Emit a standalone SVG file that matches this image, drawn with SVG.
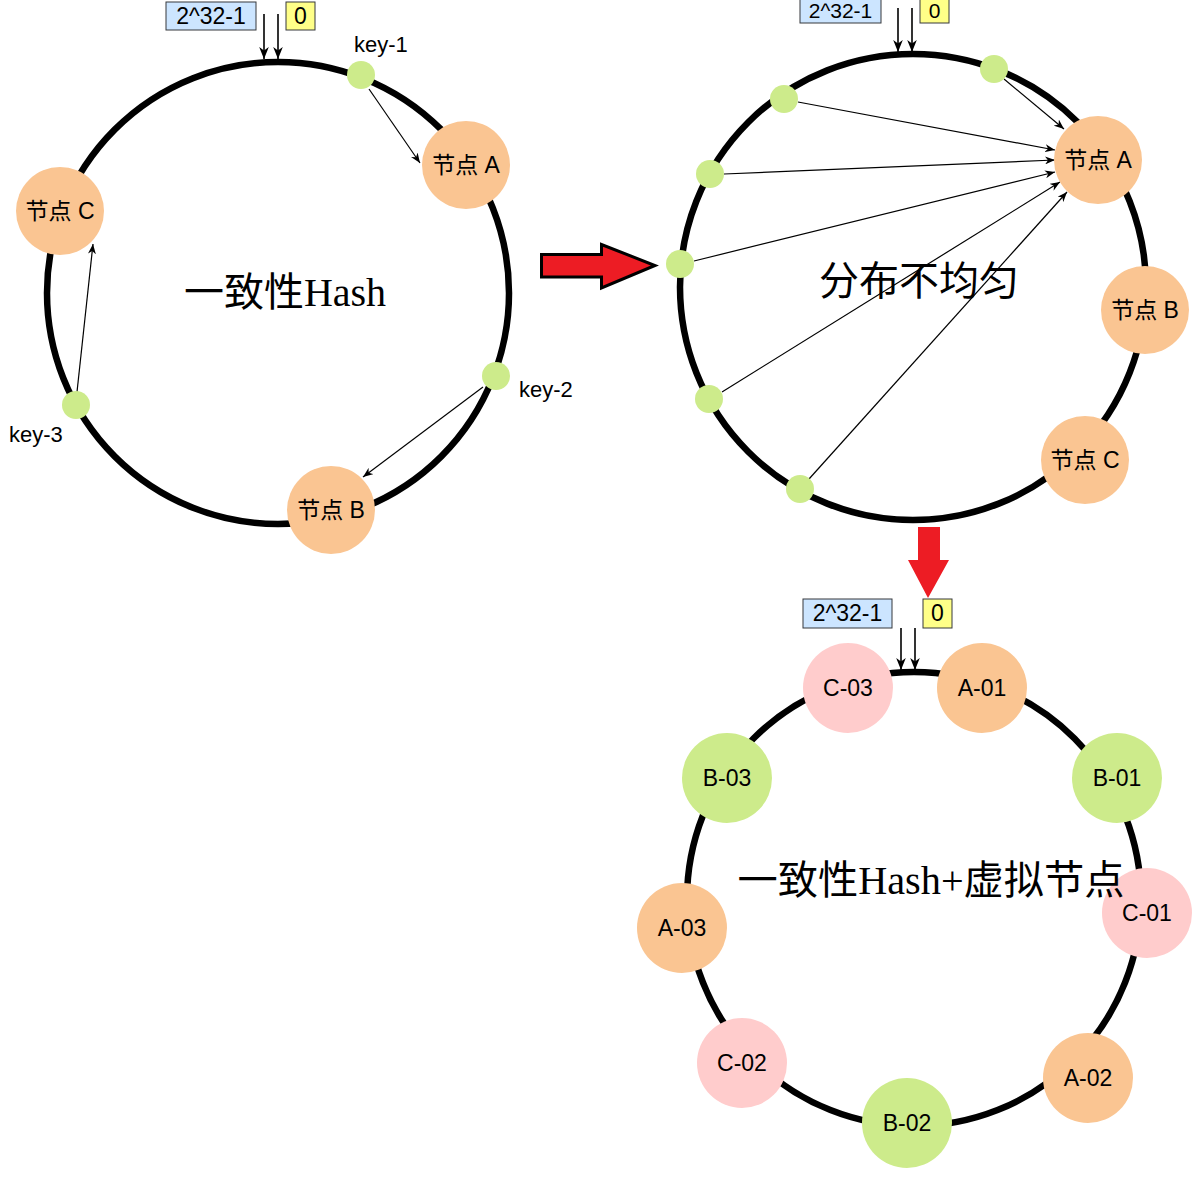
<svg xmlns="http://www.w3.org/2000/svg" width="1201" height="1183" viewBox="0 0 1201 1183">
<style>
.ring{fill:none;stroke:#000;stroke-width:6.5}
.on{fill:#FAC592}
.pk{fill:#FFCCCC}
.gn{fill:#CDEB8B}
.dot{fill:#CDEB8B}
.lbl{font-family:"Liberation Sans","Noto Sans CJK SC",sans-serif;font-size:23px;fill:#000;text-anchor:middle;dominant-baseline:central}
.key{font-family:"Liberation Sans",sans-serif;font-size:22px;fill:#000}
.title{font-family:"Liberation Serif","Noto Sans CJK SC",serif;font-size:40px;fill:#000;text-anchor:middle}
.conn{stroke:#000;stroke-width:1.2;fill:none}
.conn2{stroke:#000;stroke-width:1.6;fill:none}
.bx{fill:#CCE5FF;stroke:#36393D;stroke-width:1}
.yb{fill:#FFFF88;stroke:#36393D;stroke-width:1}
.red{fill:#ED1C24}
</style>
<defs>
<marker id="ah" viewBox="0 0 10 8" refX="10" refY="4" markerWidth="10" markerHeight="8" markerUnits="userSpaceOnUse" orient="auto">
<path d="M0,0 L10,4 L0,8 L3,4 z" fill="#000"/>
</marker>
<marker id="ah2" viewBox="0 0 10 8" refX="10" refY="4" markerWidth="12" markerHeight="10" markerUnits="userSpaceOnUse" orient="auto">
<path d="M0,0 L10,4 L0,8 L3,4 z" fill="#000"/>
</marker>
</defs>
<rect width="1201" height="1183" fill="#fff"/>

<g id="rings">
<circle class="ring" cx="278" cy="293" r="231"/>
<circle class="ring" cx="913" cy="287" r="233"/>
<circle class="ring" cx="914" cy="899" r="227"/>
</g>

<g id="red-arrows">
<polygon class="red" points="541.5,254.5 601.5,254.5 601.5,244.5 655,265.5 601.5,288 601.5,277 541.5,277" stroke="#000" stroke-width="3" stroke-linejoin="miter"/>
<polygon class="red" points="918,527 940,527 940,560 949,560 928,598 908,560 918,560"/>
</g>

<g id="labels">
<g id="lbl1-max"><rect class="bx" x="166" y="2" width="90" height="28"/><text class="lbl" x="211" y="16">2^32-1</text></g>
<g id="lbl1-zero"><rect class="yb" x="286" y="2" width="29" height="28"/><text class="lbl" x="300.5" y="16">0</text></g>
<g id="lbl2-max"><rect class="bx" x="800" y="-4" width="81" height="27"/><text class="lbl" x="840.5" y="10" style="font-size:21px">2^32-1</text></g>
<g id="lbl2-zero"><rect class="yb" x="920" y="-4" width="29" height="27"/><text class="lbl" x="934.5" y="10" style="font-size:21px">0</text></g>
<g id="lbl3-max"><rect class="bx" x="803" y="599" width="89" height="29"/><text class="lbl" x="847.5" y="613">2^32-1</text></g>
<g id="lbl3-zero"><rect class="yb" x="923" y="599" width="29" height="29"/><text class="lbl" x="937.5" y="613">0</text></g>
</g>

<g id="connectors">
<line class="conn2" x1="264" y1="14" x2="264" y2="59" marker-end="url(#ah2)"/>
<line class="conn2" x1="278" y1="14" x2="278" y2="59" marker-end="url(#ah2)"/>
<line class="conn2" x1="898" y1="8" x2="898" y2="52" marker-end="url(#ah2)"/>
<line class="conn2" x1="912" y1="8" x2="912" y2="52" marker-end="url(#ah2)"/>
<line class="conn2" x1="901" y1="628" x2="901" y2="670" marker-end="url(#ah2)"/>
<line class="conn2" x1="915" y1="628" x2="915" y2="670" marker-end="url(#ah2)"/>

<line class="conn" x1="369" y1="89" x2="420" y2="163" marker-end="url(#ah)"/>
<line class="conn" x1="483" y1="387" x2="363" y2="477" marker-end="url(#ah)"/>
<line class="conn" x1="77" y1="392" x2="93" y2="244" marker-end="url(#ah)"/>

<line class="conn" x1="1004" y1="79" x2="1064" y2="129" marker-end="url(#ah)"/>
<line class="conn" x1="798" y1="102" x2="1055" y2="150" marker-end="url(#ah)"/>
<line class="conn" x1="724" y1="174" x2="1055" y2="160" marker-end="url(#ah)"/>
<line class="conn" x1="694" y1="261" x2="1055" y2="172" marker-end="url(#ah)"/>
<line class="conn" x1="722" y1="392" x2="1060" y2="182" marker-end="url(#ah)"/>
<line class="conn" x1="809" y1="479" x2="1067" y2="192" marker-end="url(#ah)"/>
</g>

<g id="key-1"><circle class="dot" cx="361" cy="75" r="14"/><text class="key" x="354" y="52">key-1</text></g>
<g id="key-2"><circle class="dot" cx="496" cy="376" r="14"/><text class="key" x="519" y="397">key-2</text></g>
<g id="key-3"><circle class="dot" cx="76" cy="405" r="14"/><text class="key" x="9" y="442">key-3</text></g>
<g id="n1-a"><circle class="on" cx="466" cy="165" r="44"/><text class="lbl" x="466" y="165">节点 A</text></g>
<g id="n1-b"><circle class="on" cx="331" cy="510" r="44"/><text class="lbl" x="331" y="510">节点 B</text></g>
<g id="n1-c"><circle class="on" cx="60" cy="211" r="44"/><text class="lbl" x="60" y="211">节点 C</text></g>
<text class="title" x="285" y="306">一致性Hash</text>

<g id="d2-1"><circle class="dot" cx="994" cy="69" r="14"/></g>
<g id="d2-2"><circle class="dot" cx="784" cy="99" r="14"/></g>
<g id="d2-3"><circle class="dot" cx="710" cy="174" r="14"/></g>
<g id="d2-4"><circle class="dot" cx="680" cy="264" r="14"/></g>
<g id="d2-5"><circle class="dot" cx="709" cy="399" r="14"/></g>
<g id="d2-6"><circle class="dot" cx="800" cy="489" r="14"/></g>
<g id="n2-a"><circle class="on" cx="1098" cy="160" r="44"/><text class="lbl" x="1098" y="160">节点 A</text></g>
<g id="n2-b"><circle class="on" cx="1145" cy="310" r="44"/><text class="lbl" x="1145" y="310">节点 B</text></g>
<g id="n2-c"><circle class="on" cx="1085" cy="460" r="44"/><text class="lbl" x="1085" y="460">节点 C</text></g>
<text class="title" x="919" y="295">分布不均匀</text>

<g id="v-c03"><circle class="pk" cx="848" cy="688" r="45"/><text class="lbl" x="848" y="688">C-03</text></g>
<g id="v-a01"><circle class="on" cx="982" cy="688" r="45"/><text class="lbl" x="982" y="688">A-01</text></g>
<g id="v-b03"><circle class="gn" cx="727" cy="778" r="45"/><text class="lbl" x="727" y="778">B-03</text></g>
<g id="v-b01"><circle class="gn" cx="1117" cy="778" r="45"/><text class="lbl" x="1117" y="778">B-01</text></g>
<g id="v-a03"><circle class="on" cx="682" cy="928" r="45"/><text class="lbl" x="682" y="928">A-03</text></g>
<g id="v-c01"><circle class="pk" cx="1147" cy="913" r="45"/><text class="lbl" x="1147" y="913">C-01</text></g>
<g id="v-c02"><circle class="pk" cx="742" cy="1063" r="45"/><text class="lbl" x="742" y="1063">C-02</text></g>
<g id="v-b02"><circle class="gn" cx="907" cy="1123" r="45"/><text class="lbl" x="907" y="1123">B-02</text></g>
<g id="v-a02"><circle class="on" cx="1088" cy="1078" r="45"/><text class="lbl" x="1088" y="1078">A-02</text></g>
<text class="title" x="931" y="894" textLength="387" lengthAdjust="spacingAndGlyphs">一致性Hash+虚拟节点</text>
</svg>
